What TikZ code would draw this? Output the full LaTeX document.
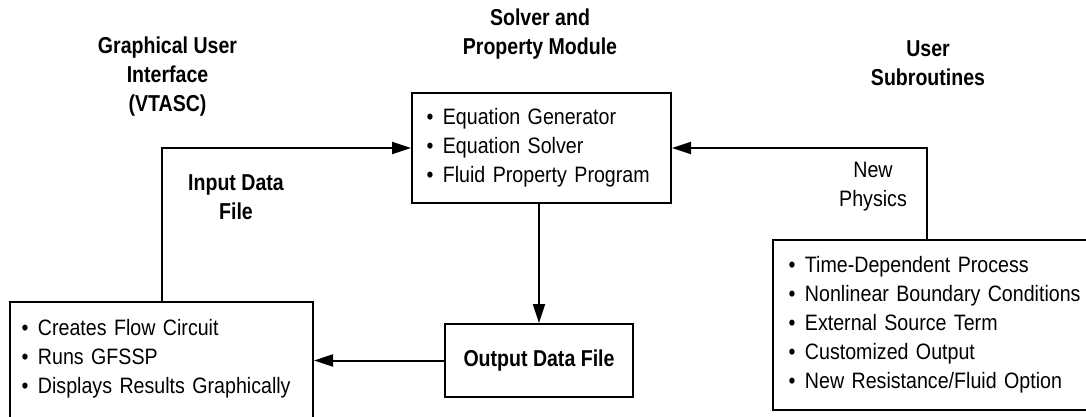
\documentclass[tikz,border=0pt]{standalone}
\usepackage{fontspec}
\setmainfont{Liberation Sans}[FakeStretch=0.88]
\newfontfamily\hdfont{Liberation Sans}[FakeStretch=0.85]
\usetikzlibrary{arrows.meta}
\newcommand{\itm}[1]{\textbullet\hspace{9.5pt}#1}
\tikzset{
  box/.style={draw, line width=2pt, rectangle, inner ysep=0pt, align=left,
    font=\fontsize{22.3pt}{29pt}\selectfont},
  outbox/.style={draw, line width=2pt, rectangle, inner sep=0pt, align=center,
    font=\hdfont\bfseries\fontsize{23pt}{29pt}\selectfont},
  hdr/.style={align=center, inner sep=0pt,
    font=\hdfont\bfseries\fontsize{23pt}{29pt}\selectfont},
  lbl/.style={align=center, inner sep=0pt, font=\fontsize{22.3pt}{29pt}\selectfont},
  conn/.style={line width=2pt, -{Triangle[length=19pt,width=12pt]}}
}
\begin{document}
\begin{tikzpicture}[x=1pt,y=-1pt]
\useasboundingbox (0,0) rectangle (1086,417);
\clip (0,0) rectangle (1086,417);

\node[box, minimum width=259pt, minimum height=110pt, inner xsep=14.5pt, text width=230pt]
  (solver) at (541.5,148) {\itm{Equation Generator}\\ \itm{Equation Solver}\\ \itm{Fluid Property Program}};
\node[box, minimum width=303pt, minimum height=124pt, inner xsep=11.6pt, text width=279.8pt]
  (gui) at (161.5,364) {\itm{Creates Flow Circuit}\\ \itm{Runs GFSSP}\\ \itm{Displays Results Graphically}\rule[-14.5pt]{0pt}{1pt}};
\node[box, minimum width=327pt, minimum height=170pt, inner xsep=15.6pt, text width=295.8pt]
  (user) at (936.5,325) {\itm{Time-Dependent Process}\\ \itm{Nonlinear Boundary Conditions}\\ \itm{External Source Term}\\ \itm{Customized Output}\\ \itm{New Resistance/Fluid Option}};
\node[outbox, minimum width=188pt, minimum height=73pt] (output) at (539,360.5) {Output Data File};

\node[hdr] (hgui) at (167.5,77) {Graphical User\\Interface\\(VTASC)};
\node[hdr] (hsol) at (540,34) {Solver and\\Property Module};
\node[hdr] (husr) at (928,63) {User\\Subroutines};
\node[hdr] (hin) at (236,197.5) {Input Data\\File};
\node[lbl] (hnew) at (873,186.5) {New\\Physics};

\coordinate (uc) at ([xshift=155pt]user.north west);
\draw[conn] (output.north |- solver.south) -- (output.north);
\draw[conn] (output.west) -- (output.west -| gui.east);
\draw[conn] (gui.north) |- (solver.west);
\draw[conn] (uc) |- (solver.east);
\end{tikzpicture}
\end{document}
